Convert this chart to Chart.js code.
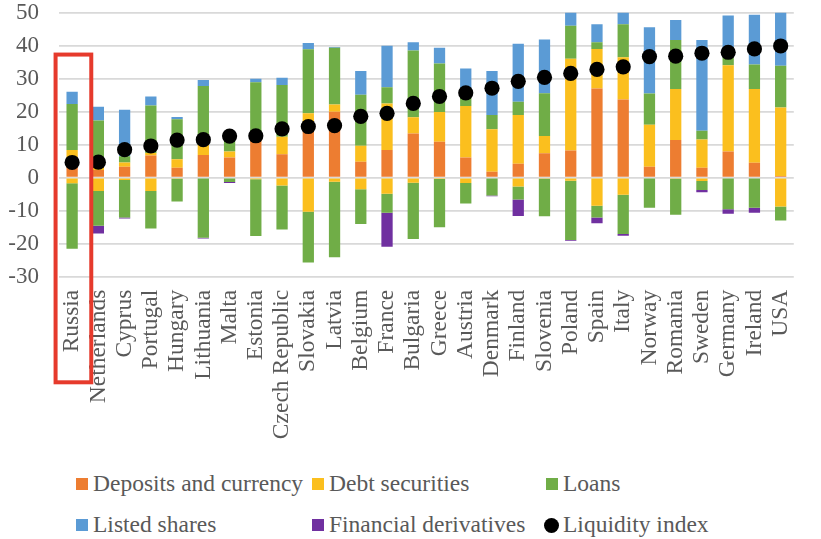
<!DOCTYPE html>
<html>
<head>
<meta charset="utf-8">
<script src="https://cdn.jsdelivr.net/npm/chart.js@4"></script>
<style>
  html, body { margin: 0; padding: 0; background: #fff; overflow: hidden; }
  #wrap { position: absolute; left: 0; top: 0; width: 822px; height: 460px; }
  .item { position: absolute; font-family: 'Liberation Serif', 'Times New Roman', serif;
          font-size: 23.5px; color: #595959; white-space: nowrap; line-height: 28px; }
  .swatch { position: absolute; width: 12px; height: 12px; }
  .dot { position: absolute; width: 15px; height: 15px; border-radius: 50%; background: #000; }
</style>
</head>
<body>
<div id="wrap"><canvas id="c" width="822" height="460"></canvas></div>
<div id="legend"></div>
<script>
// Countries, sorted by liquidity index
const categories = ['Russia', 'Netherlands', 'Cyprus', 'Portugal', 'Hungary', 'Lithuania', 'Malta',
  'Estonia', 'Czech Republic', 'Slovakia', 'Latvia', 'Belgium', 'France', 'Bulgaria', 'Greece',
  'Austria', 'Denmark', 'Finland', 'Slovenia', 'Poland', 'Spain', 'Italy', 'Norway', 'Romania',
  'Sweden', 'Germany', 'Ireland', 'USA'];

// Contributions by instrument: positive (Up) and negative (Down) parts
const depositsUp = [5.0, 2.3, 3.3, 6.7, 3.0, 6.9, 6.1, 11.5, 7.1, 16.0, 20.0, 4.8, 8.4, 13.4, 10.9,
  6.1, 1.8, 4.2, 7.4, 8.2, 27.0, 23.7, 3.3, 11.4, 3.0, 7.9, 4.5, 0.5];
const depositsDown = [0, 0, 0, 0, 0, 0, 0, 0, 0, 0, 0, 0, 0, 0, 0,
  0, 0, 0, 0, 0, 0, 0, 0, 0, 0, 0, 0, 0];

const debtUp = [3.4, 1.5, 1.3, 0.8, 2.6, 3.0, 1.8, 0, 5.3, 3.5, 2.2, 4.9, 14.1, 4.9, 9.0,
  15.6, 12.9, 14.8, 5.2, 27.8, 12.0, 12.8, 12.7, 15.5, 8.6, 26.2, 22.4, 20.8];
const debtDown = [-1.7, -4.0, -0.7, -4.0, -0.3, 0, 0, -0.5, -2.4, -10.3, -1.2, -3.5, -4.9, -1.5, -0.4,
  -1.6, 0, -2.7, -0.3, -0.9, -8.5, -5.2, 0, -0.3, -1.0, 0, 0, -8.7];

const loansUp = [13.9, 13.5, 1.9, 14.4, 12.1, 17.9, 3.5, 17.4, 15.7, 19.4, 17.2, 15.4, 4.9, 20.2, 14.7,
  3.3, 4.3, 4.0, 13.0, 10.0, 2.0, 10.0, 9.5, 14.8, 2.6, 2.4, 7.4, 12.6];
const loansDown = [-19.8, -10.6, -11.4, -11.4, -6.9, -18.2, -1.3, -17.2, -13.3, -15.4, -22.9, -10.5, -5.7, -17.1, -14.6,
  -6.2, -5.4, -3.9, -11.4, -18.0, -3.6, -11.9, -9.1, -10.9, -2.7, -9.6, -9.1, -4.3];

const sharesUp = [3.7, 4.2, 14.1, 2.7, 0.7, 1.8, 0, 1.1, 2.2, 1.9, 0.2, 7.2, 12.6, 2.5, 4.8,
  8.1, 13.3, 17.6, 16.3, 5.0, 5.5, 5.0, 20.1, 6.1, 27.5, 12.6, 15.1, 17.0];

const derivativesDown = [0, -2.3, -0.3, 0, 0, -0.2, -0.3, 0, 0, 0, 0, 0, -10.3, 0, 0,
  0, -0.2, -5.0, 0, -0.2, -1.7, -0.5, 0, 0, -0.7, -1.3, -1.5, 0];

const liquidityIndex = [4.6, 4.7, 8.5, 9.6, 11.4, 11.5, 12.6, 12.7, 14.8, 15.5, 15.8, 18.6, 19.5, 22.5, 24.6,
  25.7, 27.1, 29.2, 30.4, 31.6, 32.8, 33.6, 36.7, 36.8, 37.7, 38.0, 39.0, 39.9];

const yTicks = [-30, -20, -10, 0, 10, 20, 30, 40, 50];

const seriesNames = ['Deposits and currency', 'Debt securities', 'Loans', 'Listed shares',
  'Financial derivatives', 'Liquidity index'];
const seriesColors = ['#ED7D31', '#FBBF1E', '#70AD47', '#5B9BD5', '#7030A0', '#000000'];

const FONT = "'Liberation Serif', 'Times New Roman', serif";
const TEXT = '#595959';

function barSet(label, data, color) {
  return {
    type: 'bar', label, data: data.map(v => (v === 0 ? null : v)),
    backgroundColor: color, borderWidth: 0, stack: 'assets', order: 1,
    barPercentage: 0.43, categoryPercentage: 1
  };
}

const datasets = [
  barSet(seriesNames[0], depositsUp, seriesColors[0]),
  barSet(seriesNames[1], debtUp, seriesColors[1]),
  barSet(seriesNames[2], loansUp, seriesColors[2]),
  barSet(seriesNames[3], sharesUp, seriesColors[3]),
  barSet(seriesNames[0], depositsDown, seriesColors[0]),
  barSet(seriesNames[1], debtDown, seriesColors[1]),
  barSet(seriesNames[2], loansDown, seriesColors[2]),
  barSet(seriesNames[4], derivativesDown, seriesColors[4]),
  {
    type: 'line', label: seriesNames[5], data: liquidityIndex, showLine: false,
    stack: 'index', order: 0, pointRadius: 7.6, pointHoverRadius: 7.6,
    pointBackgroundColor: '#000', pointBorderColor: '#000', pointBorderWidth: 0
  }
];

// Red frame around the highlighted country
const highlight = {
  id: 'highlight',
  afterDraw(chart) {
    const xs = chart.scales.x, ys = chart.scales.y, ctx = chart.ctx;
    const i = categories.indexOf('Russia');
    const step = xs.getPixelForValue(1) - xs.getPixelForValue(0);
    const cx = xs.getPixelForValue(i) + 1.3;
    const top = ys.getPixelForValue(37.3);
    const bottom = chart.chartArea.bottom + 105.6;
    ctx.save();
    ctx.strokeStyle = '#E63A2C';
    ctx.lineWidth = 4;
    ctx.strokeRect(cx - 0.68 * step, top, 1.36 * step, bottom - top);
    ctx.restore();
  }
};

new Chart(document.getElementById('c'), {
  data: { labels: categories, datasets },
  options: {
    responsive: false,
    animation: false,
    layout: { padding: 0 },
    plugins: { legend: { display: false }, tooltip: { enabled: false } },
    scales: {
      x: {
        stacked: true,
        grid: { display: false, drawTicks: false },
        border: { display: false },
        ticks: {
          autoSkip: false, minRotation: 90, maxRotation: 90, padding: 13,
          color: TEXT, font: { family: FONT, size: 23.5 }
        },
        afterFit(s) { s.height = 183.3; }
      },
      y: {
        stacked: true,
        min: yTicks[0], max: yTicks[yTicks.length - 1],
        afterBuildTicks(s) { s.ticks = yTicks.map(v => ({ value: v })); },
        // invisible tick marks keep the labels 20px off the plot
        grid: { color: '#D9D9D9', lineWidth: 1.8, drawTicks: true, tickLength: 20, tickColor: 'rgba(0,0,0,0)' },
        border: { display: false },
        ticks: { padding: 0, color: TEXT, font: { family: FONT, size: 23, lineHeight: 1.1 } },
        afterFit(s) { s.width = 59; }
      }
    }
  },
  plugins: [highlight]
});

// Legend laid out as a 3-column grid below the chart
const legend = document.getElementById('legend');
const colX = [76, 312, 546];
const rowY = [484, 525];
seriesNames.forEach((name, k) => {
  const cx = colX[k % 3], cy = rowY[Math.floor(k / 3)];
  const mark = document.createElement('div');
  if (k === 5) {
    mark.className = 'dot';
    mark.style.left = (cx - 2) + 'px';
    mark.style.top = (cy - 7.5) + 'px';
  } else {
    mark.className = 'swatch';
    mark.style.left = cx + 'px';
    mark.style.top = (cy - 6) + 'px';
    mark.style.background = seriesColors[k];
  }
  legend.appendChild(mark);
  const t = document.createElement('div');
  t.className = 'item';
  t.textContent = name;
  t.style.left = (cx + 17) + 'px';
  t.style.top = (cy - 15) + 'px';
  legend.appendChild(t);
});
</script>
</body>
</html>
